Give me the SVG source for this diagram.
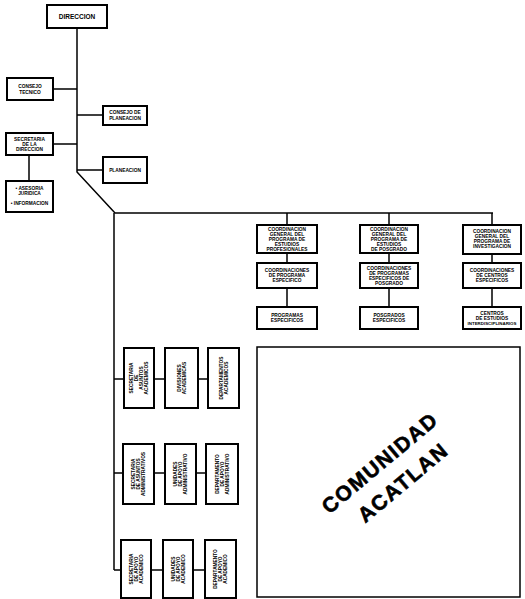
<svg xmlns="http://www.w3.org/2000/svg" width="525" height="599" viewBox="0 0 525 599">
<style>
.bx{fill:#fff;stroke:#000;stroke-width:2}
.ln{fill:none;stroke:#000;stroke-width:1.5}
text{font-family:"Liberation Sans",Arial,sans-serif;font-weight:bold;fill:#000;text-anchor:middle}
.t{font-size:4.8px}
.big{font-size:21px;letter-spacing:1.5px;stroke:#000;stroke-width:0.6}
</style>
<rect width="525" height="599" fill="#fff"/>
<g id="connectors" class="ln">
<path d="M77,28 V172 L115,213 H493"/>
<path d="M53,89 H77 M77,115 H103 M53,144 H77 M77,170 H103 M29,155 V181"/>
<path d="M287,213 V225 M389,213 V225 M492,213 V225"/>
<path d="M287,253 V263 M389,253 V263 M492,254 V263"/>
<path d="M287,288 V307 M389,288 V307 M492,288 V307"/>
<path d="M114,213 V570"/>
<path d="M114,379 H124 M154,379 H165 M198,379 H208"/>
<path d="M114,473 H123 M154,473 H165 M196,473 H206"/>
<path d="M114,570 H121 M151,570 H163 M193,570 H205"/>
</g>
<g id="direccion"><rect class="bx" x="47" y="5" width="60" height="23"/><text x="77" y="19" style="font-size:6.5px">DIRECCION</text></g>
<g id="consejo-tecnico"><rect class="bx" x="7" y="78" width="46" height="22"/><text class="t" x="30" y="88">CONSEJO</text><text class="t" x="30" y="94">TECNICO</text></g>
<g id="consejo-planeacion"><rect class="bx" x="103" y="106" width="44" height="19"/><text class="t" x="125" y="114">CONSEJO DE</text><text class="t" x="125" y="120">PLANEACION</text></g>
<g id="secretaria-direccion"><rect class="bx" x="6" y="133" width="47" height="22"/><text class="t" x="29.5" y="141">SECRETARIA</text><text class="t" x="29.5" y="146">DE LA</text><text class="t" x="29.5" y="151">DIRECCION</text></g>
<g id="asesoria"><rect class="bx" x="6" y="181" width="47" height="31"/><text class="t" x="29.5" y="190">• ASESORIA</text><text class="t" x="29.5" y="195">JURIDICA</text><text class="t" x="29.5" y="205">• INFORMACION</text></g>
<g id="planeacion"><rect class="bx" x="103" y="157" width="44" height="26"/><text class="t" x="125" y="172">PLANEACION</text></g>

<g id="coord-estudios-prof"><rect class="bx" x="257" y="225" width="60" height="28"/><text class="t" x="287" y="231">COORDINACION</text><text class="t" x="287" y="236">GENERAL DEL</text><text class="t" x="287" y="241">PROGRAMA DE</text><text class="t" x="287" y="246">ESTUDIOS</text><text class="t" x="287" y="251">PROFESIONALES</text></g>
<g id="coord-posgrado"><rect class="bx" x="360" y="225" width="58" height="28"/><text class="t" x="389" y="231">COORDINACION</text><text class="t" x="389" y="236">GENERAL DEL</text><text class="t" x="389" y="241">PROGRAMA DE</text><text class="t" x="389" y="246">ESTUDIOS</text><text class="t" x="389" y="251">DE POSGRADO</text></g>
<g id="coord-investigacion"><rect class="bx" x="463" y="225" width="58" height="29"/><text class="t" x="492" y="233">COORDINACION</text><text class="t" x="492" y="238">GENERAL DEL</text><text class="t" x="492" y="243">PROGRAMA DE</text><text class="t" x="492" y="248">INVESTIGACION</text></g>

<g id="coord-prog-esp"><rect class="bx" x="257" y="263" width="60" height="25"/><text class="t" x="287" y="272">COORDINACIONES</text><text class="t" x="287" y="277">DE PROGRAMA</text><text class="t" x="287" y="282">ESPECIFICO</text></g>
<g id="coord-prog-posgrado"><rect class="bx" x="360" y="263" width="58" height="25"/><text class="t" x="389" y="270">COORDINACIONES</text><text class="t" x="389" y="275">DE PROGRAMAS</text><text class="t" x="389" y="280">ESPECIFICOS DE</text><text class="t" x="389" y="285">POSGRADO</text></g>
<g id="coord-centros"><rect class="bx" x="463" y="263" width="58" height="25"/><text class="t" x="492" y="272">COORDINACIONES</text><text class="t" x="492" y="277">DE CENTROS</text><text class="t" x="492" y="282">ESPECIFICOS</text></g>

<g id="programas-esp"><rect class="bx" x="257" y="307" width="60" height="22"/><text class="t" x="287" y="317">PROGRAMAS</text><text class="t" x="287" y="322">ESPECIFICOS</text></g>
<g id="posgrados-esp"><rect class="bx" x="360" y="307" width="58" height="22"/><text class="t" x="389" y="317">POSGRADOS</text><text class="t" x="389" y="322">ESPECIFICOS</text></g>
<g id="centros"><rect class="bx" x="463" y="307" width="58" height="22"/><text class="t" x="492" y="315">CENTROS</text><text class="t" x="492" y="320">DE ESTUDIOS</text><text class="t" x="492" y="325" style="font-size:4.4px">INTERDISCIPLINARIOS</text></g>

<g id="sec-academica"><rect class="bx" x="124" y="348" width="30" height="60"/><g transform="translate(139,378) rotate(-90)"><text class="t" x="0" y="-6">SECRETARIA</text><text class="t" x="0" y="-1">DE</text><text class="t" x="0" y="4">ASUNTOS</text><text class="t" x="0" y="9">ACADEMICOS</text></g></g>
<g id="divisiones"><rect class="bx" x="165" y="348" width="33" height="60"/><g transform="translate(181.5,378) rotate(-90)"><text class="t" x="0" y="-1">DIVISIONES</text><text class="t" x="0" y="4">ACADEMICAS</text></g></g>
<g id="departamentos"><rect class="bx" x="208" y="348" width="31" height="60"/><g transform="translate(223.5,378) rotate(-90)"><text class="t" x="0" y="-1">DEPARTAMENTOS</text><text class="t" x="0" y="4">ACADEMICOS</text></g></g>

<g id="sec-administrativa"><rect class="bx" x="123" y="444" width="31" height="60"/><g transform="translate(138.5,474) rotate(-90)"><text class="t" x="0" y="-3.5">SECRETARIA</text><text class="t" x="0" y="1.5">DE ASUNTOS</text><text class="t" x="0" y="6.5">ADMINISTRATIVOS</text></g></g>
<g id="unidades-admin"><rect class="bx" x="165" y="444" width="31" height="60"/><g transform="translate(180.5,474) rotate(-90)"><text class="t" x="0" y="-3.5">UNIDADES</text><text class="t" x="0" y="1.5">DE APOYO</text><text class="t" x="0" y="6.5">ADMINISTRATIVO</text></g></g>
<g id="depto-admin"><rect class="bx" x="206" y="444" width="32" height="60"/><g transform="translate(222,474) rotate(-90)"><text class="t" x="0" y="-3.5">DEPARTAMENTO</text><text class="t" x="0" y="1.5">DE APOYO</text><text class="t" x="0" y="6.5">ADMINISTRATIVO</text></g></g>

<g id="sec-apoyo"><rect class="bx" x="121" y="540" width="30" height="58"/><g transform="translate(136,569) rotate(-90)"><text class="t" x="0" y="-3.5">SECRETARIA</text><text class="t" x="0" y="1.5">DE APOYO</text><text class="t" x="0" y="6.5">ACADEMICO</text></g></g>
<g id="unidades-apoyo"><rect class="bx" x="163" y="540" width="30" height="58"/><g transform="translate(178,569) rotate(-90)"><text class="t" x="0" y="-3.5">UNIDADES</text><text class="t" x="0" y="1.5">DE APOYO</text><text class="t" x="0" y="6.5">ACADEMICO</text></g></g>
<g id="depto-apoyo"><rect class="bx" x="205" y="540" width="31" height="58"/><g transform="translate(220.5,569) rotate(-90)"><text class="t" x="0" y="-3.5">DEPARTAMENTO</text><text class="t" x="0" y="1.5">DE APOYO</text><text class="t" x="0" y="6.5">ACADEMICO</text></g></g>

<g id="comunidad"><rect class="bx" x="257" y="347" width="263" height="250" style="stroke-width:1.5"/><g transform="translate(380,463) rotate(-40)"><text class="big" x="0" y="7">COMUNIDAD</text><text class="big" x="5" y="37">ACATLAN</text></g></g>
</svg>
